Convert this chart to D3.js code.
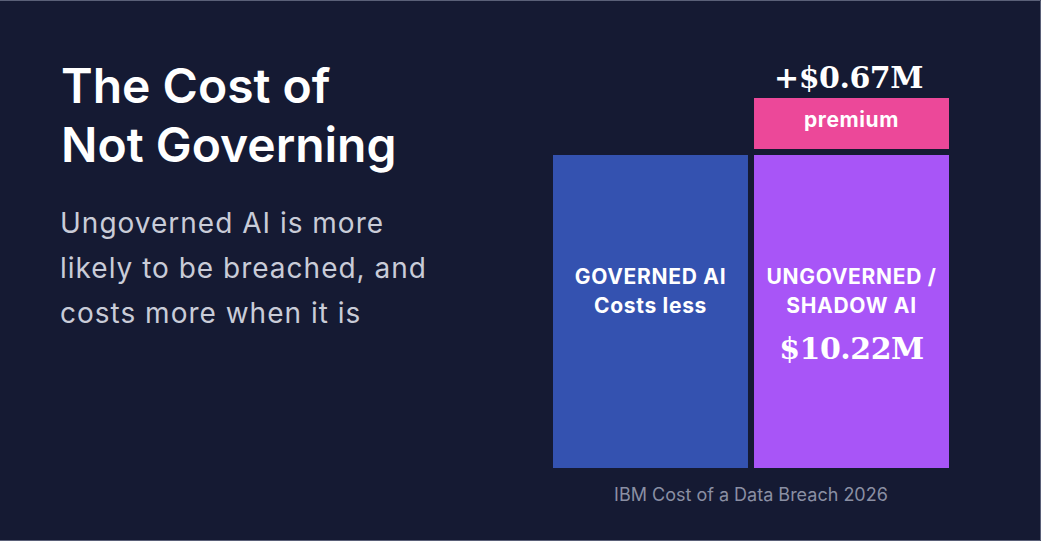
<!DOCTYPE html>
<html>
<head>
<meta charset="utf-8">
<script src="https://cdn.jsdelivr.net/npm/d3@7"></script>
<style>
  html, body { margin: 0; padding: 0; background: #151a33; }
  svg { display: block; }
</style>
</head>
<body>
<svg></svg>
<script>
width = 1041
height = 541

// data
const categories = ["governed", "ungoverned"]
const labels = [["GOVERNED AI", "Costs less"], ["UNGOVERNED /", "SHADOW AI"]]
const baseValue = [9.55, 9.55]   // base cost drawn for both bars ($M)
const premiumValue = 0.67        // extra cost of ungoverned ($M)
const totalLabel = "$10.22M"
const premiumLabel = "+$0.67M"
const titleLines = ["The Cost of", "Not Governing"]
const subLines = ["Ungoverned AI is more", "likely to be breached, and", "costs more when it is"]
const source = "IBM Cost of a Data Breach 2026"

const color = d3.scaleOrdinal(categories, ["#3452b0", "#a855f7"])
const premiumColor = "#ec4899"

const svg = d3.select("svg").attr("width", width).attr("height", height)

svg.append("rect").attr("width", width).attr("height", height).attr("fill", "#151a33")

// frame (top / right / bottom)
svg.append("path")
  .attr("d", `M0,0.5H${width - 0.5}V${height - 0.5}H0`)
  .attr("fill", "none")
  .attr("stroke", "#5a6078")
  .attr("stroke-width", 1)

x = d3.scaleBand()
  .domain(categories)
  .range([553, 949])
  .paddingInner(0.03)

y = d3.scaleLinear()
  .domain([0, d3.max(baseValue)])
  .range([468, 155])

// premium segment is drawn magnified so it stays readable
premiumScale = d3.scaleLinear().domain([0, premiumValue]).range([0, 51])
const premiumGap = 6

// titles
svg.append("g")
  .selectAll("text")
  .data(titleLines)
  .join("text")
  .attr("x", 61)
  .attr("y", (d, i) => 103 + i * 59)
  .attr("fill", "#ffffff")
  .attr("font-family", "Inter, sans-serif")
  .attr("font-weight", 600)
  .attr("font-size", 48)
  .text(d => d)

svg.append("g")
  .selectAll("text")
  .data(subLines)
  .join("text")
  .attr("x", 60)
  .attr("y", (d, i) => 233 + i * 45)
  .attr("fill", "#c9ccd8")
  .attr("font-family", "Inter, sans-serif")
  .attr("font-size", 28)
  .attr("letter-spacing", "1px")
  .text(d => d)

// bars
const bars = svg.append("g")
bars.selectAll("rect")
  .data(categories)
  .join("rect")
  .attr("x", d => x(d))
  .attr("y", (d, i) => y(baseValue[i]))
  .attr("width", x.bandwidth())
  .attr("height", (d, i) => y(0) - y(baseValue[i]))
  .attr("fill", d => color(d))

// premium block on top of ungoverned
const ungTop = y(baseValue[1])
const pTop = ungTop - premiumGap - premiumScale(premiumValue)
svg.append("rect")
  .attr("x", x("ungoverned"))
  .attr("y", pTop)
  .attr("width", x.bandwidth())
  .attr("height", premiumScale(premiumValue))
  .attr("fill", premiumColor)

svg.append("text")
  .attr("x", x("ungoverned") + x.bandwidth() / 2)
  .attr("y", pTop + 29)
  .attr("text-anchor", "middle")
  .attr("fill", "#ffffff")
  .attr("font-family", "Inter, sans-serif")
  .attr("font-weight", 700)
  .attr("font-size", 21)
  .attr("letter-spacing", "0.6px")
  .text("premium")

svg.append("text")
  .attr("x", x("ungoverned") + x.bandwidth() / 2 - 3)
  .attr("y", pTop - 10)
  .attr("text-anchor", "middle")
  .attr("fill", "#ffffff")
  .attr("font-family", "'DejaVu Serif', serif")
  .attr("font-weight", 700)
  .attr("font-size", 30)
  .attr("letter-spacing", "-0.5px")
  .text(premiumLabel)

// bar labels
categories.forEach((c, i) => {
  const cx = x(c) + x.bandwidth() / 2
  svg.append("g")
    .selectAll("text")
    .data(labels[i])
    .join("text")
    .attr("x", cx)
    .attr("y", (d, j) => 284 + j * 29)
    .attr("text-anchor", "middle")
    .attr("fill", "#ffffff")
    .attr("font-family", "Inter, sans-serif")
    .attr("font-weight", 700)
    .attr("font-size", 21)
    .attr("letter-spacing", "0.7px")
    .text(d => d)
})

svg.append("text")
  .attr("x", x("ungoverned") + x.bandwidth() / 2)
  .attr("y", 359)
  .attr("text-anchor", "middle")
  .attr("fill", "#ffffff")
  .attr("font-family", "'DejaVu Serif', serif")
  .attr("font-weight", 700)
  .attr("font-size", 30)
  .attr("letter-spacing", "-0.5px")
  .text(totalLabel)

svg.append("text")
  .attr("x", (x.range()[0] + x.range()[1]) / 2)
  .attr("y", 501)
  .attr("text-anchor", "middle")
  .attr("fill", "#8a8fa3")
  .attr("font-family", "Inter, sans-serif")
  .attr("font-size", 18)
  .text(source)
</script>
</body>
</html>
